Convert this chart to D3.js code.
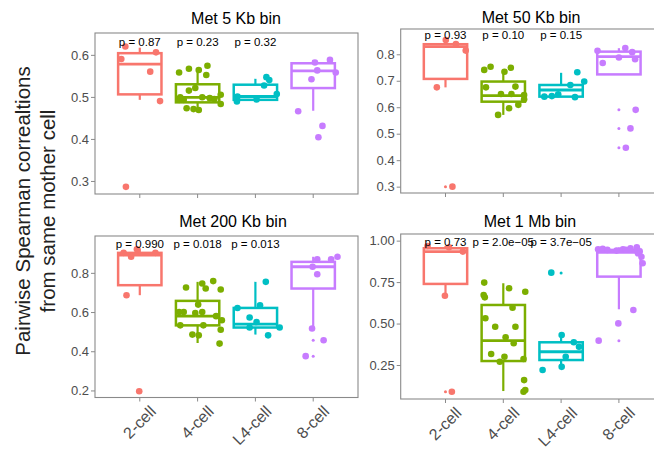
<!DOCTYPE html>
<html>
<head>
<meta charset="utf-8">
<script src="https://cdn.jsdelivr.net/npm/d3@7"></script>
<style>
  body { margin: 0; background: #fff; }
  text { font-family: "Liberation Sans", Arial, sans-serif; }
</style>
</head>
<body>
<svg id="plot" width="654" height="451"></svg>
<script>
const categories = ["2-cell", "4-cell", "L4-cell", "8-cell"];
const colors = ["#F8766D", "#7CAE00", "#00BFC4", "#C77CFF"];
const panelTitles = ["Met 5 Kb bin", "Met 50 Kb bin", "Met 200 Kb bin", "Met 1 Mb bin"];
const pLabels = [
  ["p = 0.87", "p = 0.23", "p = 0.32"],
  ["p = 0.93", "p = 0.10", "p = 0.15"],
  ["p = 0.990", "p = 0.018", "p = 0.013"],
  ["p = 0.73", "p = 2.0e\u221205", "p = 3.7e\u221205"],
];
const yTicks = [
  [0.3, 0.4, 0.5, 0.6],
  [0.3, 0.4, 0.5, 0.6, 0.7, 0.8],
  [0.2, 0.4, 0.6, 0.8],
  [0.25, 0.5, 0.75, 1.0],
];
const yFormats = [".1f", ".1f", ".1f", ".2f"];

// box stats per category: [lower whisker, q1, median, q3, upper whisker]
const boxes5kb = [
  [0.493, 0.506, 0.578, 0.604, 0.617],
  [0.469, 0.487, 0.499, 0.530, 0.568],
  [0.489, 0.493, 0.501, 0.529, 0.543],
  [0.467, 0.521, 0.562, 0.580, 0.588],
];
const boxes50kb = [
  [0.675, 0.707, 0.829, 0.838, 0.857],
  [0.571, 0.621, 0.644, 0.697, 0.737],
  [0.638, 0.640, 0.665, 0.684, 0.730],
  [0.722, 0.724, 0.791, 0.810, 0.823],
];
const boxes200kb = [
  [0.686, 0.737, 0.891, 0.902, 0.925],
  [0.442, 0.532, 0.579, 0.657, 0.754],
  [0.485, 0.521, 0.538, 0.621, 0.754],
  [0.516, 0.720, 0.831, 0.856, 0.882],
];
const boxes1mb = [
  [0.672, 0.739, 0.934, 0.954, 0.968],
  [0.093, 0.274, 0.397, 0.612, 0.743],
  [0.239, 0.280, 0.330, 0.387, 0.431],
  [0.586, 0.783, 0.930, 0.944, 0.960],
];

// white dashed line inside some boxes (value per category, null = none)
const dashes5kb = [null, null, 0.518, 0.572];
const dashes50kb = [null, 0.631, null, null];
const dashes200kb = [null, null, null, null];
const dashes1mb = [null, null, 0.300, null];

// boxplot outliers (drawn small, at category centre)
const outliers5kb = [[], [], [], []];
const outliers50kb = [[0.300], [], [], [0.590, 0.520, 0.447]];
const outliers200kb = [[0.196], [], [], [0.456, 0.375]];
const outliers1mb = [[0.089], [], [0.805], [0.397]];

// jittered points: [jitter (category units), value]
const points5kb = [
  [[-0.25, 0.620], [-0.32, 0.590], [0.28, 0.606], [0.18, 0.560], [0.35, 0.490], [-0.24, 0.286]],
  [[-0.32, 0.558], [-0.15, 0.567], [0.02, 0.564], [0.17, 0.574], [0.15, 0.552], [-0.15, 0.515],
   [-0.04, 0.521], [-0.32, 0.493], [-0.24, 0.493], [-0.19, 0.473], [-0.07, 0.471], [0.02, 0.469],
   [0.40, 0.505], [0.40, 0.483], [0.21, 0.497], [0.29, 0.495], [-0.30, 0.499], [0.08, 0.499]],
  [[-0.32, 0.489], [0.02, 0.494], [0.15, 0.527], [0.19, 0.547], [0.24, 0.540], [0.37, 0.507], [-0.31, 0.501]],
  [[0.03, 0.582], [0.29, 0.588], [0.39, 0.558], [-0.03, 0.542], [-0.26, 0.466], [0.16, 0.431],
   [0.09, 0.404], [0.07, 0.563]],
];
const points50kb = [
  [[0.005, 0.854], [0.18, 0.839], [0.35, 0.814], [-0.15, 0.675], [0.12, 0.300]],
  [[-0.33, 0.741], [-0.22, 0.753], [0.02, 0.734], [0.13, 0.749], [-0.30, 0.675], [0.21, 0.678],
   [-0.09, 0.571], [0.10, 0.596], [-0.04, 0.650], [0.14, 0.650], [0.26, 0.609], [0.36, 0.646], [0.36, 0.630]],
  [[-0.29, 0.640], [-0.16, 0.642], [0.16, 0.684], [0.24, 0.638], [0.28, 0.732], [0.40, 0.697], [-0.05, 0.649]],
  [[-0.37, 0.813], [-0.28, 0.767], [0, 0.788], [0.11, 0.824], [0.23, 0.808], [0.28, 0.781],
   [0.29, 0.590], [0.20, 0.520], [0.12, 0.447]],
];
const points200kb = [
  [[-0.28, 0.902], [-0.15, 0.882], [-0.05, 0.920], [0.27, 0.902], [-0.23, 0.686], [-0.01, 0.196]],
  [[-0.20, 0.725], [0.08, 0.746], [0.14, 0.720], [0.27, 0.758], [0.40, 0.715], [0.01, 0.638],
   [-0.32, 0.600], [-0.24, 0.600], [-0.04, 0.595], [0.08, 0.600], [-0.30, 0.532], [0.10, 0.532],
   [-0.09, 0.485], [0.02, 0.481], [0.38, 0.439], [0.40, 0.510], [0.42, 0.558], [0.32, 0.579]],
  [[-0.31, 0.621], [-0.10, 0.572], [0.08, 0.635], [0.18, 0.754], [-0.10, 0.521], [0.22, 0.481],
   [0.42, 0.521], [0.02, 0.549]],
  [[0.07, 0.869], [0.07, 0.793], [0.31, 0.869], [0.42, 0.882], [-0.02, 0.516], [0.18, 0.456],
   [-0.13, 0.375], [-0.01, 0.831]],
];
const points1mb = [
  [[-0.31, 0.968], [0.06, 0.960], [0.30, 0.934], [-0.01, 0.668], [0.11, 0.089]],
  [[-0.33, 0.747], [-0.34, 0.672], [-0.32, 0.658], [0.10, 0.713], [0.38, 0.692], [-0.31, 0.532],
   [-0.14, 0.481], [0.21, 0.481], [0.16, 0.596], [0.04, 0.417], [0.18, 0.381], [-0.21, 0.316],
   [-0.06, 0.270], [0.02, 0.300], [0.35, 0.286], [0.36, 0.159], [0.38, 0.099], [0.35, 0.089]],
  [[-0.32, 0.220], [-0.17, 0.807], [0.01, 0.431], [0.01, 0.239], [0.22, 0.387], [0.31, 0.360], [0.08, 0.300]],
  [[-0.36, 0.948], [-0.28, 0.950], [-0.20, 0.944], [-0.04, 0.940], [0.07, 0.948], [0.12, 0.945],
   [0.20, 0.954], [0.31, 0.960], [0.36, 0.935], [0.33, 0.924], [0.39, 0.903], [0.41, 0.864],
   [0.25, 0.582], [-0.01, 0.501], [-0.35, 0.397]],
];

const boxes = [boxes5kb, boxes50kb, boxes200kb, boxes1mb];
const dashes = [dashes5kb, dashes50kb, dashes200kb, dashes1mb];
const outliers = [outliers5kb, outliers50kb, outliers200kb, outliers1mb];
const points = [points5kb, points50kb, points200kb, points1mb];

// panel layout
const layout = [
  { x0: 95, x1: 358, y0: 33, y1: 194, dom: [0.269, 0.652], tx: 236, ty: 24, xlab: false },
  { x0: 400.7, x1: 663.7, y0: 29, y1: 193, dom: [0.276, 0.8955], tx: 531, ty: 23, xlab: false },
  { x0: 95, x1: 358, y0: 236, y1: 397.5, dom: [0.164, 0.988], tx: 233, ty: 227, xlab: true },
  { x0: 400.7, x1: 663.7, y0: 234, y1: 399, dom: [0.045, 1.04], tx: 530, ty: 227, xlab: true },
];

const svg = d3.select("#plot");
const grey = "#4d4d4d";

layout.forEach((L, pi) => {
  const x = d3.scaleBand().domain(categories).range([L.x0, L.x1]).paddingInner(0.25).paddingOuter(0.4);
  const step = x.step();
  const cx = (c) => x(c) + x.bandwidth() / 2;
  const y = d3.scaleLinear().domain(L.dom).range([L.y1, L.y0]);
  const g = svg.append("g");

  // y axis
  const yAxis = g.append("g")
    .attr("transform", `translate(${L.x0},0)`)
    .call(d3.axisLeft(y).tickValues(yTicks[pi]).tickFormat(d3.format(yFormats[pi])).tickSize(4).tickPadding(2));
  yAxis.select(".domain").remove();
  yAxis.selectAll("line").attr("stroke", "#8a8a8a");
  yAxis.selectAll("text").attr("fill", grey).style("font-size", "13px").style("font-family", "Liberation Sans, Arial, sans-serif");

  // x axis
  const xAxis = g.append("g")
    .attr("transform", `translate(0,${L.y1})`)
    .call(d3.axisBottom(x).tickSize(4).tickPadding(3));
  xAxis.select(".domain").remove();
  xAxis.selectAll("line").attr("stroke", "#8a8a8a");
  if (L.xlab) {
    xAxis.selectAll("text")
      .attr("fill", grey)
      .style("font-size", "16px")
      .style("font-family", "Liberation Sans, Arial, sans-serif")
      .attr("text-anchor", "end")
      .attr("dy", "0.72em")
      .attr("transform", "translate(4,2) rotate(-45)");
  } else {
    xAxis.selectAll("text").remove();
  }

  const bw = x.bandwidth();
  const cats = g.selectAll(".cat").data(categories).join("g").attr("class", "cat");

  cats.each(function (c, ci) {
    const s = boxes[pi][ci];
    const sel = d3.select(this);
    const col = colors[ci];
    // whiskers
    sel.append("line").attr("x1", cx(c)).attr("x2", cx(c)).attr("y1", y(s[3])).attr("y2", y(s[4]))
      .attr("stroke", col).attr("stroke-width", 2.2);
    sel.append("line").attr("x1", cx(c)).attr("x2", cx(c)).attr("y1", y(s[1])).attr("y2", y(s[0]))
      .attr("stroke", col).attr("stroke-width", 2.2);
    // box
    sel.append("rect").attr("x", x(c)).attr("width", bw).attr("y", y(s[3])).attr("height", y(s[1]) - y(s[3]))
      .attr("fill", "white").attr("stroke", col).attr("stroke-width", 2.5);
    sel.append("line").attr("x1", x(c)).attr("x2", x(c) + bw).attr("y1", y(s[2])).attr("y2", y(s[2]))
      .attr("stroke", col).attr("stroke-width", 2.8);
    if (dashes[pi][ci] != null) {
      sel.append("line").attr("x1", x(c) + 2).attr("x2", x(c) + bw - 2)
        .attr("y1", y(dashes[pi][ci])).attr("y2", y(dashes[pi][ci]))
        .attr("stroke", "white").attr("stroke-width", 1.2).attr("stroke-dasharray", "4,3");
    }
    // outliers
    sel.selectAll(".out").data(outliers[pi][ci]).join("circle").attr("class", "out")
      .attr("cx", cx(c)).attr("cy", (d) => y(d)).attr("r", 1.5).attr("fill", col);
    // jittered points
    sel.selectAll(".pt").data(points[pi][ci]).join("circle").attr("class", "pt")
      .attr("cx", (d) => cx(c) + d[0] * step).attr("cy", (d) => y(d[1])).attr("r", 3.3).attr("fill", col);
  });

  // p-value labels at the panel maximum
  const ymax = d3.max([
    d3.max(boxes[pi], (b) => b[4]),
    d3.max(points[pi].flat(), (p) => p[1]),
  ]);
  g.selectAll(".plab").data(pLabels[pi]).join("text").attr("class", "plab")
    .attr("x", (d, i) => cx(categories[i])).attr("y", y(ymax))
    .attr("text-anchor", "middle").style("font-size", "11.5px").attr("fill", "#000")
    .text((d) => d);

  // panel border
  g.append("rect").attr("x", L.x0).attr("y", L.y0).attr("width", L.x1 - L.x0).attr("height", L.y1 - L.y0)
    .attr("fill", "none").attr("stroke", "#8a8a8a").attr("stroke-width", 1.1);

  // title
  g.append("text").attr("x", L.tx).attr("y", L.ty).attr("text-anchor", "middle")
    .style("font-size", "16px").attr("fill", "#000").text(panelTitles[pi]);
});

// shared y-axis title
const yTitle = svg.append("text")
  .attr("transform", "translate(0,211) rotate(-90)")
  .attr("text-anchor", "middle")
  .style("font-size", "20.5px")
  .attr("fill", "#222");
yTitle.append("tspan").attr("x", 0).attr("y", 30).text("Pairwise Spearman correaltions");
yTitle.append("tspan").attr("x", 0).attr("y", 55).text("from same mother cell");
</script>
</body>
</html>
